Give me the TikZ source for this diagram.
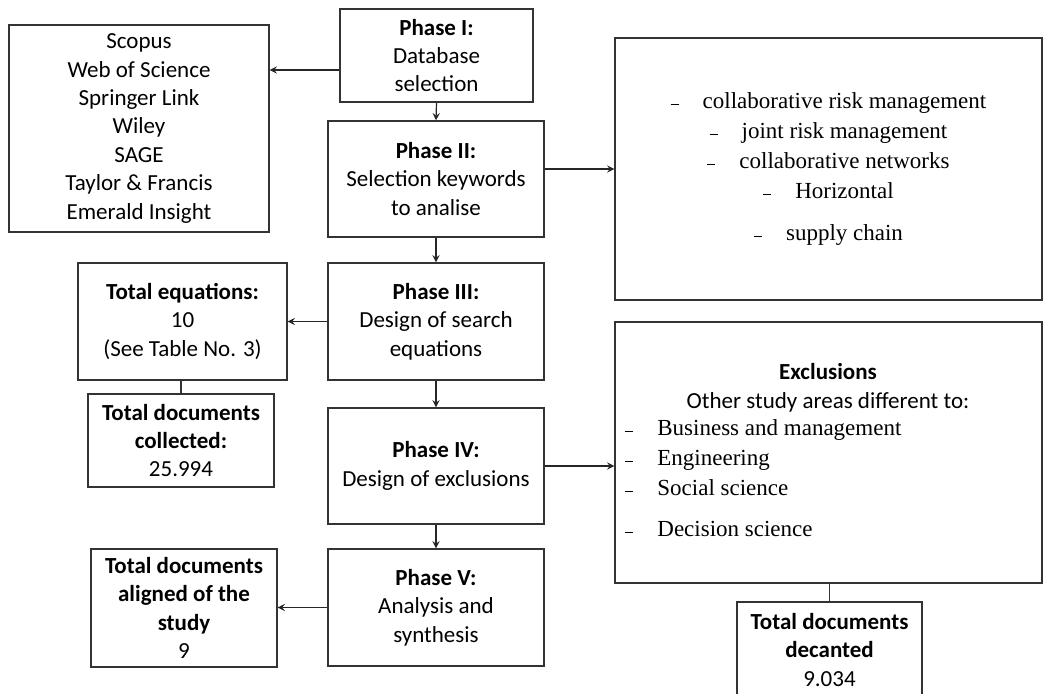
\documentclass[tikz,border=0pt]{standalone}
\usepackage{fontspec}
\setmainfont{Carlito}
\newfontfamily\tnr{Liberation Serif}
\usetikzlibrary{positioning}
\newcommand{\kdash}{\rule[1.5pt]{4pt}{0.6pt}\hspace{12pt}}

\begin{document}
\begin{tikzpicture}[>=stealth, x=0.5pt, y=-0.5pt,
    box/.style={draw=black!80, line width=0.7pt, align=center, inner sep=2pt,
        font=\fontsize{11.5}{14.2}\selectfont},
    serif/.style={align=center, inner sep=0pt, font=\tnr\fontsize{11.5}{15}\selectfont},
    arr/.style={->, draw=black!85, line width=0.6pt}]
    \useasboundingbox (0,0) rectangle (1055,694);

    % Các pha ở cột giữa
    \node[box, minimum width=96.5pt, minimum height=46.5pt] (ph1) at (436.5,55.5)
        {\textbf{Phase I:}\\Database\\selection};
    \node[box, minimum width=108pt, minimum height=58pt] (ph2) at (436,179)
        {\textbf{Phase II:}\\Selection keywords\\to analise};
    \node[box, minimum width=108pt, minimum height=58.5pt] (ph3) at (436,321.5)
        {\textbf{Phase III:}\\Design of search\\equations};
    \node[box, minimum width=108pt, minimum height=58pt] (ph4) at (436,466)
        {\textbf{Phase IV:}\\Design of exclusions};
    \node[box, minimum width=108pt, minimum height=58.5pt] (ph5) at (436,607.5)
        {\textbf{Phase V:}\\Analysis and\\synthesis};

    % Các hộp kết quả bên trái
    \node[box, minimum width=130pt, minimum height=103.5pt] (db) at (139,128.5)
        {Scopus\\Web of Science\\Springer Link\\Wiley\\SAGE\\Taylor \& Francis\\Emerald Insight};
    \node[box, minimum width=104.5pt, minimum height=58.5pt] (eq) at (182.5,321.5)
        {\textbf{Total equations:}\\10\\(See Table No. 3)};
    \node[box, minimum width=93pt, minimum height=46.5pt] (coll) at (181,440.5)
        {\textbf{Total documents}\\\textbf{collected:}\\25.994};
    \node[box, minimum width=93pt, minimum height=59pt] (align) at (184,608)
        {\textbf{Total documents}\\\textbf{aligned of the}\\\textbf{study}\\9};

    % Các hộp bên phải
    \node[box, serif, draw=black!80, minimum width=213.5pt, minimum height=131pt] (kw) at (828.5,169)
        {\kdash collaborative risk management\\\kdash joint risk management\\
         \kdash collaborative networks\\\kdash Horizontal\\[6pt]\kdash supply chain};
    \node[box, minimum width=213.5pt, minimum height=130.5pt] (excl) at (828.5,452.5) {};
    \node[align=center, inner sep=0pt, font=\fontsize{11.5}{14.5}\selectfont] (exhead) at (828,388)
        {\textbf{Exclusions}\\Other study areas different to:};
    \node[serif, align=left, anchor=west] (exlist) at (625,478)
        {\kdash Business and management\\\kdash Engineering\\\kdash Social science\\[5.5pt]
         \kdash Decision science};
    \node[box, minimum width=92.5pt, minimum height=48pt] (dec) at (829.5,650)
        {\textbf{Total documents}\\\textbf{decanted}\\9.034};

    % Mũi tên nối
    \coordinate (y1) at (0,70);
    \draw[arr] (ph1.south) -- (ph2.north);
    \draw[arr] (ph2.south) -- (ph3.north);
    \draw[arr] (ph3.south) -- (ph4.north);
    \draw[arr] (ph4.south) -- (ph5.north);
    \draw[arr] (ph1.west |- y1) -- (db.east |- y1);
    \draw[arr] (ph2.east |- kw) -- (kw.west);
    \draw[arr] (ph3.west) -- (ph3.west -| eq.east);
    \draw[arr] (ph4.east) -- (ph4.east -| excl.west);
    \draw[arr] (ph5.west) -- (ph5.west -| align.east);
    \draw[black!80, line width=0.6pt] (coll.north |- eq.south) -- (coll.north);
    \draw[black!80, line width=0.6pt] (dec.north |- excl.south) -- (dec.north);
\end{tikzpicture}
\end{document}
